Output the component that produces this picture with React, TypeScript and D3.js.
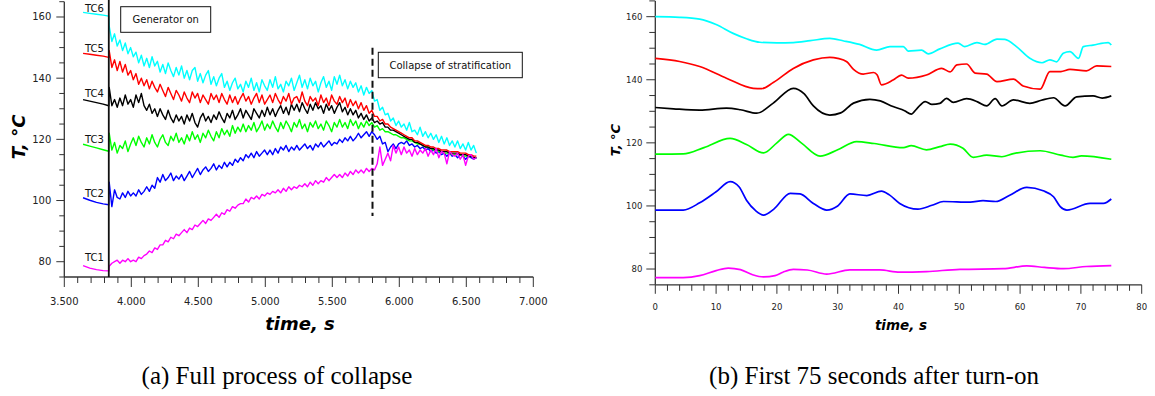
import React from 'react';
import * as d3 from 'd3';

// ---------- Left chart (a): full process ----------
const PRE_TIMES = [3640, 3690, 3740, 3790, 3832];
const POST_START = 3835;
const POST_STEP = 20;
const GEN_ON_T = 3832;
const COLLAPSE_T = 5800;

const TC6_PRE = [161.5, 161.2, 160.9, 160.6, 160.3];
const TC5_PRE = [148.1, 147.8, 147.5, 147.2, 146.8];
const TC4_PRE = [133.0, 132.5, 132.0, 131.5, 131.0];
const TC3_PRE = [118.4, 117.8, 117.2, 116.6, 116.1];
const TC2_PRE = [100.9, 100.1, 99.4, 98.9, 98.6];
const TC1_PRE = [78.7, 77.9, 77.4, 77.1, 77.0];

const TC6_POST = [
  157.0, 152.0, 154.5, 150.5, 152.5, 149.0, 151.5, 148.0, 150.0, 147.0,
  148.5, 145.0, 147.5, 144.0, 146.5, 143.5, 147.0, 144.0, 145.5, 142.0,
  144.5, 141.5, 145.0, 142.5, 140.5, 143.5, 141.0, 144.0, 140.0, 142.5,
  139.5, 142.5, 143.5, 139.0, 141.5, 138.5, 141.0, 142.5, 138.0, 140.5,
  137.5, 140.0, 141.5, 137.0, 139.0, 136.0, 138.5, 140.0, 136.5, 138.0,
  135.5, 139.0, 137.0, 140.0, 136.0, 138.5, 135.5, 139.5, 137.5, 136.0,
  139.5, 137.0, 140.5, 136.5, 138.0, 135.5, 139.0, 137.5, 140.0, 136.0,
  138.5, 141.0, 137.0, 139.5, 136.5, 140.0, 137.5, 139.0, 135.5, 138.5,
  140.5, 137.0, 139.0, 136.0, 140.5, 138.0, 141.0, 137.5, 139.5, 136.5,
  139.0, 137.0, 138.5, 135.5, 137.5, 134.5, 137.0, 135.0, 136.0, 132.5,
  133.0, 129.5, 130.5, 128.0, 128.5, 126.0, 127.0, 124.5, 126.0, 124.0,
  125.0, 123.0, 125.5, 122.5, 123.0, 121.5, 124.0, 121.0, 122.5, 120.5,
  122.0, 120.0, 121.5, 119.0, 121.0, 118.5, 120.5, 118.0, 119.5, 117.5,
  119.5, 117.0, 118.5, 116.5, 119.0, 116.5, 118.0, 115.5,
];
const TC5_POST = [
  149.0, 143.5, 146.0, 142.5, 145.5, 142.0, 144.5, 141.0, 142.5, 139.5,
  141.5, 138.0, 140.0, 137.5, 139.5, 136.5, 139.0, 137.0, 135.5, 138.0,
  136.0, 134.0, 137.0, 135.0, 133.0, 136.0, 134.5, 132.5, 135.5, 133.5,
  132.0, 135.5, 133.5, 135.0, 132.0, 134.5, 133.0, 131.5, 135.0, 133.0,
  134.5, 132.0, 135.0, 133.0, 131.5, 134.5, 132.0, 134.0, 131.5, 133.5,
  135.0, 132.5, 134.0, 131.5, 133.5, 135.0, 132.0, 134.5, 131.5, 133.0,
  134.5, 132.0, 135.0, 133.0, 131.5, 134.0, 132.5, 135.0, 131.5, 133.5,
  134.0, 132.0, 135.5, 132.5, 131.0, 134.0, 132.5, 133.5, 131.0, 134.5,
  132.0, 133.5, 131.0, 134.5, 132.5, 131.5, 134.0, 132.0, 133.5, 130.5,
  133.0, 131.0, 132.5, 130.0, 132.0, 129.5, 131.0, 128.5, 129.5, 127.5,
  127.5, 126.0, 126.5, 125.0, 125.0, 124.0, 123.5, 123.0, 122.5, 122.0,
  121.5, 121.0, 120.5, 120.5, 119.5, 119.5, 119.0, 118.5, 118.0, 118.0,
  117.5, 117.5, 117.0, 117.0, 116.5, 116.5, 116.5, 116.0, 116.0, 116.0,
  116.0, 115.5, 115.5, 115.5, 115.0, 115.0, 114.5, 114.5,
];
const TC4_POST = [
  137.0, 131.0, 133.0, 130.5, 133.5, 131.0, 134.5, 131.5, 133.0, 130.5,
  134.5, 132.0, 135.0, 131.0, 129.5, 131.5, 128.5, 130.0, 127.5, 130.0,
  128.0, 126.5, 129.5, 127.0, 125.5, 128.0, 126.0, 127.5, 125.0, 128.0,
  126.0, 128.5, 125.5, 124.0, 127.0, 128.5, 126.0, 127.5, 125.5, 128.0,
  126.5, 129.0, 127.0, 125.5, 128.5, 127.0, 129.5, 126.5, 128.0, 130.0,
  127.0, 129.5, 128.0, 126.5, 130.0, 128.5, 127.0, 129.5, 127.5, 130.5,
  128.0, 130.0, 127.5, 129.5, 131.0, 128.5, 130.5, 128.0, 131.5, 129.5,
  131.5, 129.0, 132.0, 130.0, 128.5, 131.5, 129.5, 132.0, 130.0, 131.0,
  128.5, 131.5, 129.5, 131.0, 128.5, 130.5, 132.0, 129.0, 130.5, 128.0,
  130.0, 128.0, 129.5, 127.0, 128.5, 126.5, 128.0, 126.0, 127.0, 125.5,
  126.0, 125.0, 125.5, 124.0, 124.0, 123.0, 123.0, 122.5, 122.0, 121.5,
  121.0, 120.5, 120.0, 120.0, 119.0, 119.0, 118.5, 118.0, 117.5, 117.5,
  117.0, 117.0, 116.5, 116.5, 116.0, 116.0, 116.0, 115.5, 115.5, 115.5,
  115.5, 115.0, 115.0, 115.0, 114.5, 114.5, 114.0, 114.0,
];
const TC3_POST = [
  122.0, 116.5, 119.0, 115.5, 118.0, 117.0, 119.5, 116.0, 118.5, 120.5,
  118.0, 121.0, 119.0, 117.5, 120.5, 118.5, 121.5, 119.0, 117.5, 120.0,
  121.5, 119.0, 118.0, 121.0, 119.5, 122.0, 119.0, 120.5, 118.5, 121.5,
  119.5, 122.5, 120.0, 121.5, 119.0, 122.0, 120.5, 123.0, 121.0, 119.5,
  122.5, 120.5, 123.5, 121.5, 123.0, 121.0, 124.5, 122.0, 124.0, 122.5,
  125.0, 122.5, 124.5, 123.0, 125.5, 122.5, 124.0, 126.0, 123.0, 125.0,
  123.5, 126.0, 124.0, 122.5, 125.5, 123.5, 126.0, 124.5, 122.5, 125.5,
  124.0, 126.5, 123.5, 125.0, 122.5, 125.5, 124.0, 126.0, 123.5, 125.0,
  123.0, 126.0, 124.5, 122.5, 125.5, 124.0, 126.5, 124.0, 125.5, 123.5,
  126.5, 124.5, 126.0, 123.5, 125.5, 124.0, 126.0, 124.5, 125.5, 124.0,
  124.5, 123.0, 123.5, 122.5, 122.5, 122.0, 121.5, 121.5, 121.0, 120.5,
  120.5, 120.0, 119.5, 119.5, 119.0, 118.5, 118.5, 118.0, 117.5, 117.5,
  117.0, 116.5, 116.5, 116.0, 116.0, 115.5, 115.5, 115.5, 115.0, 115.0,
  115.0, 115.0, 114.5, 114.5, 114.5, 114.5, 114.0, 114.0,
];
const TC2_POST = [
  106.0, 98.0, 103.5, 101.0, 100.5, 102.5, 101.0, 103.0, 101.5, 102.5,
  101.5, 103.5, 102.0, 103.0, 104.5, 103.0, 105.0, 104.0, 107.5, 106.0,
  108.5, 106.5, 107.5, 109.0, 106.5, 108.0, 107.0, 108.5, 106.5, 108.0,
  109.5, 107.5, 109.0, 110.5, 108.5, 110.0, 111.0, 109.5, 110.5, 112.0,
  110.0, 111.5, 110.5, 112.5, 111.0, 112.5, 111.5, 113.5, 112.5, 114.0,
  113.0, 115.0, 114.0, 115.5, 114.0, 116.0, 114.5, 115.5, 116.5, 115.0,
  116.5, 115.0, 117.0, 115.5, 117.5, 116.5, 118.0, 116.0, 117.5, 116.5,
  118.0, 116.5, 117.5, 118.5, 117.0, 118.0, 116.5, 118.5, 117.5, 119.0,
  117.5, 118.5, 119.5, 118.0, 119.0, 118.5, 120.0, 119.0, 120.5, 119.5,
  121.0, 119.5, 120.5, 122.0, 120.5, 121.5, 122.5, 121.0, 122.5, 121.5,
  120.0, 121.0, 118.5, 119.0, 116.0, 117.5, 118.5, 117.0, 118.5, 119.0,
  118.5, 119.5, 118.0, 118.5, 117.5, 118.0, 117.0, 117.5, 116.5, 117.0,
  116.0, 116.5, 115.5, 116.0, 115.0, 115.5, 114.5, 115.5, 114.5, 115.0,
  114.0, 115.0, 114.5, 113.5, 114.5, 114.0, 113.5, 114.0,
];
const TC1_POST = [
  78.5, 79.5, 80.0, 80.5, 79.5, 80.5, 80.0, 81.0, 80.0, 80.5,
  80.0, 81.5, 81.0, 82.0, 82.5, 83.5, 83.0, 84.5, 84.0, 85.5,
  85.5, 87.0, 86.5, 88.0, 87.5, 89.0, 88.5, 89.5, 90.5, 89.5,
  91.0, 90.5, 92.0, 91.5, 92.5, 93.5, 92.5, 94.0, 93.5, 94.5,
  95.5, 94.5, 96.0, 95.5, 97.0, 96.5, 98.0, 97.5, 98.5, 99.0,
  99.0, 100.5, 99.5, 101.0, 100.5, 101.5, 100.5, 102.0, 101.5, 102.5,
  102.0, 103.0, 102.5, 103.5, 102.5, 104.0, 103.0, 104.5, 103.5, 104.5,
  104.0, 105.0, 104.5, 105.5, 104.5, 106.0, 105.0, 106.5, 105.5, 106.5,
  106.0, 107.5, 106.5, 107.5, 108.5, 107.5, 108.5, 107.5, 109.0, 108.0,
  109.5, 108.5, 110.0, 109.0, 110.0, 109.0, 110.5, 109.5, 110.5, 110.0,
  112.0, 117.5, 111.5, 113.5, 115.5, 113.0, 118.0, 115.5, 117.5, 115.0,
  117.5, 115.5, 116.5, 114.5, 117.0, 115.0, 116.5, 115.5, 117.0, 114.5,
  116.5, 115.0, 117.0, 114.0, 116.0, 115.5, 112.0, 116.0, 115.0, 114.5,
  115.5, 113.5, 115.0, 111.5, 114.5, 115.0, 113.5, 114.0,
];

const LEFT_SERIES = [
  { name: 'TC2', color: '#0000FF', pre: TC2_PRE, post: TC2_POST },
  { name: 'TC3', color: '#00FF00', pre: TC3_PRE, post: TC3_POST },
  { name: 'TC4', color: '#000000', pre: TC4_PRE, post: TC4_POST },
  { name: 'TC5', color: '#FF0000', pre: TC5_PRE, post: TC5_POST },
  { name: 'TC6', color: '#00FFFF', pre: TC6_PRE, post: TC6_POST },
  { name: 'TC1', color: '#FF00FF', pre: TC1_PRE, post: TC1_POST },
];
const TC_LABELS = ['TC6', 'TC5', 'TC4', 'TC3', 'TC2', 'TC1'];
const TC_LABEL_VALUES = [162.8, 149.6, 135.1, 120.0, 102.4, 81.4];

// ---------- Right chart (b): first 75 s ----------
const R_TC6: [number, number][] = [[0,160],[4,159.8],[7.3,159.2],[10,157.5],[12.8,154.7],[15,153],[17.2,151.9],[20,151.7],[22.7,151.8],[25.5,152.4],[28.7,153.1],[31,152.3],[33.6,151.2],[36.4,149.4],[38.6,150.5],[40.8,150.5],[41.6,149.1],[43.8,149.4],[44.9,148.2],[46.8,149.8],[49.8,151.6],[50.9,150.5],[52.9,151.8],[54.2,151.2],[56.2,152.9],[57.5,152.8],[59.4,150.5],[61.6,146.8],[63.6,145.4],[64.9,146.3],[66,145.7],[67.1,148.4],[68.2,148.9],[69.6,146.8],[70.4,150.5],[72,151],[74.5,151.8],[75,151]];
const R_TC5: [number, number][] = [[0,146.8],[4,145.8],[7.3,144.2],[11.7,140.5],[16.1,137.3],[17.5,137.2],[19.4,139.1],[22.7,143.6],[26,146.3],[28.7,147.1],[30,146.8],[31.5,145.7],[32.6,143.3],[34.2,141.8],[35.9,142.3],[36.5,141.5],[37.2,138.4],[39.1,139.9],[40.5,141.5],[41.6,140.5],[44.6,141.5],[47.1,143.6],[48.5,142.5],[49.6,144.7],[51.2,145],[52.6,142.1],[54.5,141.8],[56.2,139.4],[58.9,140.2],[60.5,138],[63.3,137],[64.9,142.6],[66.7,142.6],[68.2,143.3],[70.9,142.8],[72.6,144.4],[75,144.2]];
const R_TC4: [number, number][] = [[0,131.2],[3,130.8],[7.3,130.4],[11.7,131],[14,130.5],[16.7,129.4],[19.4,132.6],[22.7,137.3],[24.5,135.5],[26,131.7],[28.7,128.8],[30.5,129.5],[32.6,132.6],[35.3,133.8],[37,133.3],[39.1,131.5],[41,130.2],[42.1,129.1],[43,130.8],[44.4,133.1],[45.5,132.2],[46.8,132.5],[47.9,134.1],[49,132.8],[51.2,134],[53,133],[54.5,131.7],[55.9,134],[57,131.7],[58.9,133.6],[61.6,132.5],[63.5,133.5],[65.5,134.3],[67.4,131.7],[69.3,134.6],[72,134.9],[73.5,134.2],[75,134.9]];
const R_TC3: [number, number][] = [[0,116.4],[4.6,116.5],[8,118.5],[12.3,121.4],[15,119.5],[17.8,116.8],[20,120],[21.9,122.7],[24,120],[27.1,115.8],[30,117.8],[33.1,120.4],[36,119.8],[40.8,118.5],[42.1,119.1],[44.6,117.8],[46.8,118.8],[48.5,119.6],[50.6,118.3],[52.3,115.4],[54.5,116.1],[57,115.6],[58.9,116.6],[63.3,117.5],[66.7,116.1],[68.7,115.4],[70.1,115.9],[75,114.8]];
const R_TC2: [number, number][] = [[0,98.7],[4.6,98.7],[7.3,101],[10,104.5],[12.3,107.7],[13.8,106],[15,101.8],[16.5,98.5],[17.8,97.1],[19.5,99],[22.2,104],[23.8,103.8],[26,100.8],[28.2,98.7],[30,100],[32,103.8],[34.8,103.3],[37.2,104.7],[38.5,103.5],[40.2,100.8],[43.2,99],[45.5,100.2],[47.4,101.4],[51.8,101.2],[53.9,101.7],[56,101.4],[58.3,103.4],[61.1,105.9],[63.8,104.8],[65.5,102.9],[66.6,99.8],[67.7,98.7],[71.5,100.8],[73.7,100.8],[75,102.2]];
const R_TC1: [number, number][] = [[0,77.3],[4.6,77.3],[7.3,77.9],[10,79.5],[12,80.3],[14,79.8],[16,78.2],[17.8,77.5],[19.7,77.9],[21,79],[22.7,79.9],[25,79.7],[28.2,78.4],[32,79.7],[36.9,79.7],[40.2,79],[44.6,79.2],[50.1,79.9],[57.2,80.1],[61.1,81],[64,80.5],[67.1,80.1],[70.9,80.8],[75,81.1]];

const RIGHT_SERIES = [
  { name: 'TC6', color: '#00FFFF', data: R_TC6 },
  { name: 'TC5', color: '#FF0000', data: R_TC5 },
  { name: 'TC4', color: '#000000', data: R_TC4 },
  { name: 'TC3', color: '#00FF00', data: R_TC3 },
  { name: 'TC2', color: '#0000FF', data: R_TC2 },
  { name: 'TC1', color: '#FF00FF', data: R_TC1 },
];

const Y_MAJOR = [80, 100, 120, 140, 160];
const L_X_MAJOR = [3500, 4000, 4500, 5000, 5500, 6000, 6500, 7000];
const R_X_MAJOR = [0, 10, 20, 30, 40, 50, 60, 70, 80];

const SANS = '"DejaVu Sans", Verdana, sans-serif';
const SERIF = '"Liberation Serif", "DejaVu Serif", serif';
const AX = '#333';

export default function App() {
  const xL = d3.scaleLinear().domain([3500, 7000]).range([64.3, 533.3]);
  const yL = d3.scaleLinear().domain([75, 165]).range([277, 1.7]);
  const xR = d3.scaleLinear().domain([0, 80]).range([655.3, 1141.7]);
  const yR = d3.scaleLinear().domain([75, 165]).range([284.8, 0.9]);

  const loc = d3.formatLocale({ decimal: ',', thousands: '.', grouping: [3], currency: ['', ''] });
  const fmtThousands = loc.format(',');

  const lineL = d3.line<[number, number]>().x((d) => xL(d[0])).y((d) => yL(d[1]));
  const lineR = d3
    .line<[number, number]>()
    .x((d) => xR(d[0]))
    .y((d) => yR(d[1]))
    .curve(d3.curveMonotoneX);

  const yMinor = d3.range(75, 166, 5);
  const xLMinor = d3.range(3500, 7001, 100);
  const xRMinor = d3.range(0, 81, 2);

  const leftPaths = LEFT_SERIES.map((s) => {
    const pts: [number, number][] = [];
    s.pre.forEach((v, i) => pts.push([PRE_TIMES[i], v]));
    s.post.forEach((v, i) => pts.push([POST_START + i * POST_STEP, v]));
    return { ...s, d: lineL(pts) || '' };
  });

  return (
    <svg
      width={1155}
      height={396}
      style={{ position: 'absolute', left: 0, top: 0, background: '#fff' }}
    >
      <rect x={0} y={0} width={1155} height={396} fill="#fff" />

      {/* ===== Left chart ===== */}
      <g>
        <line x1={xL(3500)} x2={xL(3500)} y1={yL(75)} y2={yL(165)} stroke={AX} strokeWidth={1.3} />
        <line x1={xL(3500)} x2={xL(7000)} y1={yL(75)} y2={yL(75)} stroke={AX} strokeWidth={1.3} />
        {yMinor.map((v) => (
          <line key={'yl' + v} x1={xL(3500) - (v % 20 === 0 ? 8 : 5)} x2={xL(3500)} y1={yL(v)} y2={yL(v)} stroke={AX} strokeWidth={1} />
        ))}
        {Y_MAJOR.map((v) => (
          <text key={'ylt' + v} x={xL(3500) - 13} y={yL(v)} dominantBaseline="central" textAnchor="end" fontFamily={SANS} fontSize={10} fill="#222">
            {v}
          </text>
        ))}
        {xLMinor.map((t) => (
          <line key={'xl' + t} x1={xL(t)} x2={xL(t)} y1={yL(75)} y2={yL(75) + (t % 500 === 0 ? 10 : 6)} stroke={AX} strokeWidth={1} />
        ))}
        {L_X_MAJOR.map((t) => (
          <text key={'xlt' + t} x={xL(t)} y={301} dominantBaseline="central" textAnchor="middle" fontFamily={SANS} fontSize={10} fill="#222">
            {fmtThousands(t)}
          </text>
        ))}
        <text x={300} y={323} dominantBaseline="central" textAnchor="middle" fontFamily={SANS} fontSize={18} fontWeight="bold" fontStyle="italic">
          time, s
        </text>
        <text transform="translate(18,137) rotate(-90)" dominantBaseline="central" textAnchor="middle" fontFamily={SANS} fontSize={18} fontWeight="bold" fontStyle="italic">
          T, °C
        </text>

        {leftPaths.map((s) => (
          <path key={s.name} d={s.d} fill="none" stroke={s.color} strokeWidth={1.4} strokeLinejoin="round" />
        ))}

        {TC_LABELS.map((n, i) => (
          <text key={n} x={85} y={yL(TC_LABEL_VALUES[i])} dominantBaseline="central" fontFamily={SANS} fontSize={10} fill="#111">
            {n}
          </text>
        ))}

        <line x1={xL(GEN_ON_T)} x2={xL(GEN_ON_T)} y1={0} y2={yL(75)} stroke="#111" strokeWidth={1.8} />
        <rect x={120.7} y={6.7} width={90} height={25.6} fill="#fff" stroke="#111" strokeWidth={1} />
        <text x={165.7} y={19.5} dominantBaseline="central" textAnchor="middle" fontFamily={SANS} fontSize={10} fill="#111">
          Generator on
        </text>

        <line x1={xL(COLLAPSE_T)} x2={xL(COLLAPSE_T)} y1={47.7} y2={216} stroke="#111" strokeWidth={2} strokeDasharray="7,4" />
        <rect x={378.3} y={52.3} width={144} height={25.4} fill="#fff" stroke="#111" strokeWidth={1} />
        <text x={450.3} y={65} dominantBaseline="central" textAnchor="middle" fontFamily={SANS} fontSize={10} fill="#111">
          Collapse of stratification
        </text>
      </g>

      {/* ===== Right chart ===== */}
      <g>
        <line x1={xR(0)} x2={xR(0)} y1={yR(75)} y2={yR(165)} stroke={AX} strokeWidth={1.3} />
        <line x1={xR(0)} x2={xR(80)} y1={yR(75)} y2={yR(75)} stroke={AX} strokeWidth={1.3} />
        {yMinor.map((v) => (
          <line key={'yr' + v} x1={xR(0) - (v % 20 === 0 ? 9 : 6)} x2={xR(0)} y1={yR(v)} y2={yR(v)} stroke={AX} strokeWidth={1} />
        ))}
        {Y_MAJOR.map((v) => (
          <text key={'yrt' + v} x={xR(0) - 13} y={yR(v)} dominantBaseline="central" textAnchor="end" fontFamily={SANS} fontSize={8.5} fill="#222">
            {v}
          </text>
        ))}
        {xRMinor.map((t) => (
          <line key={'xr' + t} x1={xR(t)} x2={xR(t)} y1={yR(75)} y2={yR(75) + (t % 10 === 0 ? 9 : 6)} stroke={AX} strokeWidth={1} />
        ))}
        {R_X_MAJOR.map((t) => (
          <text key={'xrt' + t} x={xR(t)} y={307} dominantBaseline="central" textAnchor="middle" fontFamily={SANS} fontSize={8.5} fill="#222">
            {t}
          </text>
        ))}
        <text x={901} y={325} dominantBaseline="central" textAnchor="middle" fontFamily={SANS} fontSize={13.5} fontWeight="bold" fontStyle="italic">
          time, s
        </text>
        <text transform="translate(615,140) rotate(-90)" dominantBaseline="central" textAnchor="middle" fontFamily={SANS} fontSize={13} fontWeight="bold" fontStyle="italic">
          T, °C
        </text>
        {RIGHT_SERIES.map((s) => (
          <path key={'r' + s.name} d={lineR(s.data) || ''} fill="none" stroke={s.color} strokeWidth={1.7} />
        ))}
      </g>

      {/* captions */}
      <text x={277} y={375} dominantBaseline="central" textAnchor="middle" fontFamily={SERIF} fontSize={25}>
        (a) Full process of collapse
      </text>
      <text x={874} y={375} dominantBaseline="central" textAnchor="middle" fontFamily={SERIF} fontSize={25}>
        (b) First 75 seconds after turn-on
      </text>
    </svg>
  );
}
